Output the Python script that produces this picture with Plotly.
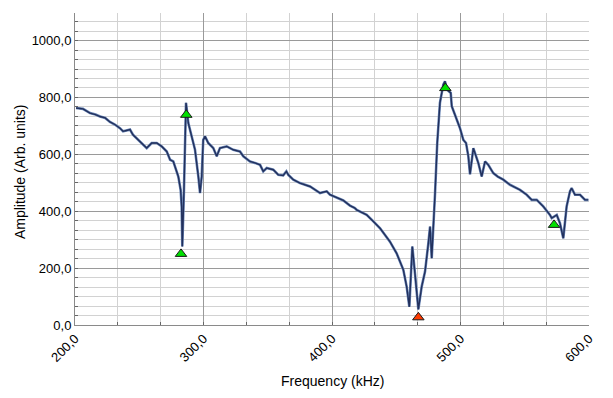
import plotly.graph_objects as go

# Spectrum trace
freq = [200.8, 206.2, 211.7, 216.0, 219.5, 223.5, 227.2, 231.0, 235.0, 237.4, 240.0, 242.8, 245.1,
        250.6, 255.8, 259.7, 263.6, 267.5, 271.4, 274.0, 276.5, 280.4, 282.2, 283.0, 283.5,
        284.8, 286.4, 288.2, 290.8, 293.4, 296.0, 297.3, 298.6, 299.8, 301.2, 303.7, 307.6,
        310.3, 312.8, 318.1, 323.2, 328.4, 331.0, 336.2, 340.0, 344.0, 346.5, 349.2, 354.3,
        358.2, 362.0, 364.5, 366.0, 369.9, 375.1, 382.9, 390.7, 395.9, 398.4, 406.2, 408.8,
        414.0, 417.5, 419.2, 427.0, 432.0, 437.4, 445.1, 450.3, 455.5, 458.1, 460.2, 462.5,
        464.6, 467.2, 469.8, 472.4, 475.0, 476.3, 477.6, 478.8, 480.2, 481.9, 484.0, 486.6,
        487.9, 489.7, 492.4, 493.2, 497.0, 499.6, 502.2, 504.3, 506.1, 507.4, 510.0, 513.9,
        516.5, 519.1, 521.6, 525.5, 529.0, 533.3, 538.5, 542.0, 546.3, 551.5, 555.4, 559.3,
        564.4, 569.6, 571.0, 574.9, 577.4, 580.0, 582.6, 585.2, 586.5, 589.1, 593.0, 596.9, 599.5]
amp = [763, 760, 745, 740, 733, 728, 714, 705, 692, 681, 684, 687, 669,
       645, 622, 640, 640, 628, 610, 581, 575, 522, 475, 417, 276,
       475, 781, 710, 663, 616, 522, 464, 522, 651, 663, 640, 622,
       593, 622, 628, 616, 610, 593, 575, 570, 563, 540, 552, 546,
       528, 526, 540, 528, 511, 499, 487, 464, 470, 458, 445, 438,
       420, 412, 405, 387, 365, 340, 293, 252, 194, 135, 64, 276,
       180, 55, 135, 188, 288, 346, 235, 323, 464, 640, 781, 845,
       857, 827, 816, 769, 722, 692, 651, 640, 593, 530, 622, 569,
       522, 575, 563, 534, 522, 511, 493, 485, 475, 458, 440, 440,
       417, 387, 376, 387, 358, 305, 417, 470, 481, 458, 458, 440, 440]

# Detected peaks / dips (markers)
peak_f = [282.5, 286.6, 488.2, 572.8]
peak_a = [250, 739, 833, 352]
dip_f = [467.2]
dip_a = [27]

fig = go.Figure()
fig.add_trace(go.Scatter(x=freq, y=amp, mode="lines",
                         line=dict(color="#6a86b6", width=2.6), hoverinfo="skip", showlegend=False))
fig.add_trace(go.Scatter(x=freq, y=amp, mode="lines",
                         line=dict(color="#22305c", width=1.4), showlegend=False))
fig.add_trace(go.Scatter(x=peak_f, y=peak_a, mode="markers",
                         marker=dict(symbol="triangle-up", size=10, color="#00e000",
                                     line=dict(color="#1a1a1a", width=1)), showlegend=False))
fig.add_trace(go.Scatter(x=dip_f, y=dip_a, mode="markers",
                         marker=dict(symbol="triangle-up", size=10, color="#ff3a00",
                                     line=dict(color="#1a1a1a", width=1)), showlegend=False))

fig.update_layout(
    width=605, height=390,
    margin=dict(l=67, r=24, t=5, b=73),
    paper_bgcolor="white", plot_bgcolor="white",
    separators=",.",
    font=dict(family="Liberation Sans, Arial, sans-serif", size=13, color="black"),
    xaxis=dict(
        range=[200, 600], tickmode="linear", tick0=200, dtick=100, tickformat=".1f",
        tickangle=-45, showgrid=True, gridcolor="#9a9a9a", gridwidth=1,
        ticks="inside", ticklen=3, tickcolor="#666", automargin=False,
        minor=dict(dtick=100/3, tick0=200, showgrid=True, gridcolor="#d2d2d2", gridwidth=1,
                   ticks="inside", ticklen=3, tickcolor="#666"),
        showline=True, linecolor="#8a8a8a", linewidth=1, zeroline=False,
    ),
    yaxis=dict(
        range=[0, 1097], tickmode="linear", tick0=0, dtick=200, tickformat=".1f",
        showgrid=True, gridcolor="#9a9a9a", gridwidth=1,
        ticks="inside", ticklen=3, tickcolor="#666", automargin=False,
        minor=dict(dtick=200/6, tick0=0, showgrid=True, gridcolor="#d2d2d2", gridwidth=1,
                   ticks="inside", ticklen=3, tickcolor="#666"),
        showline=True, linecolor="#8a8a8a", linewidth=1, zeroline=False,
    ),
    annotations=[
        dict(text="Frequency (kHz)", xref="paper", yref="paper", x=0.5, y=-0.179,
             xanchor="center", yanchor="middle", showarrow=False, font=dict(size=14)),
        dict(text="Amplitude (Arb. units)", xref="paper", yref="paper", x=-0.107, y=0.49,
             xanchor="center", yanchor="middle", textangle=-90, showarrow=False,
             font=dict(size=14)),
    ],
)

fig.write_html("out.html")
